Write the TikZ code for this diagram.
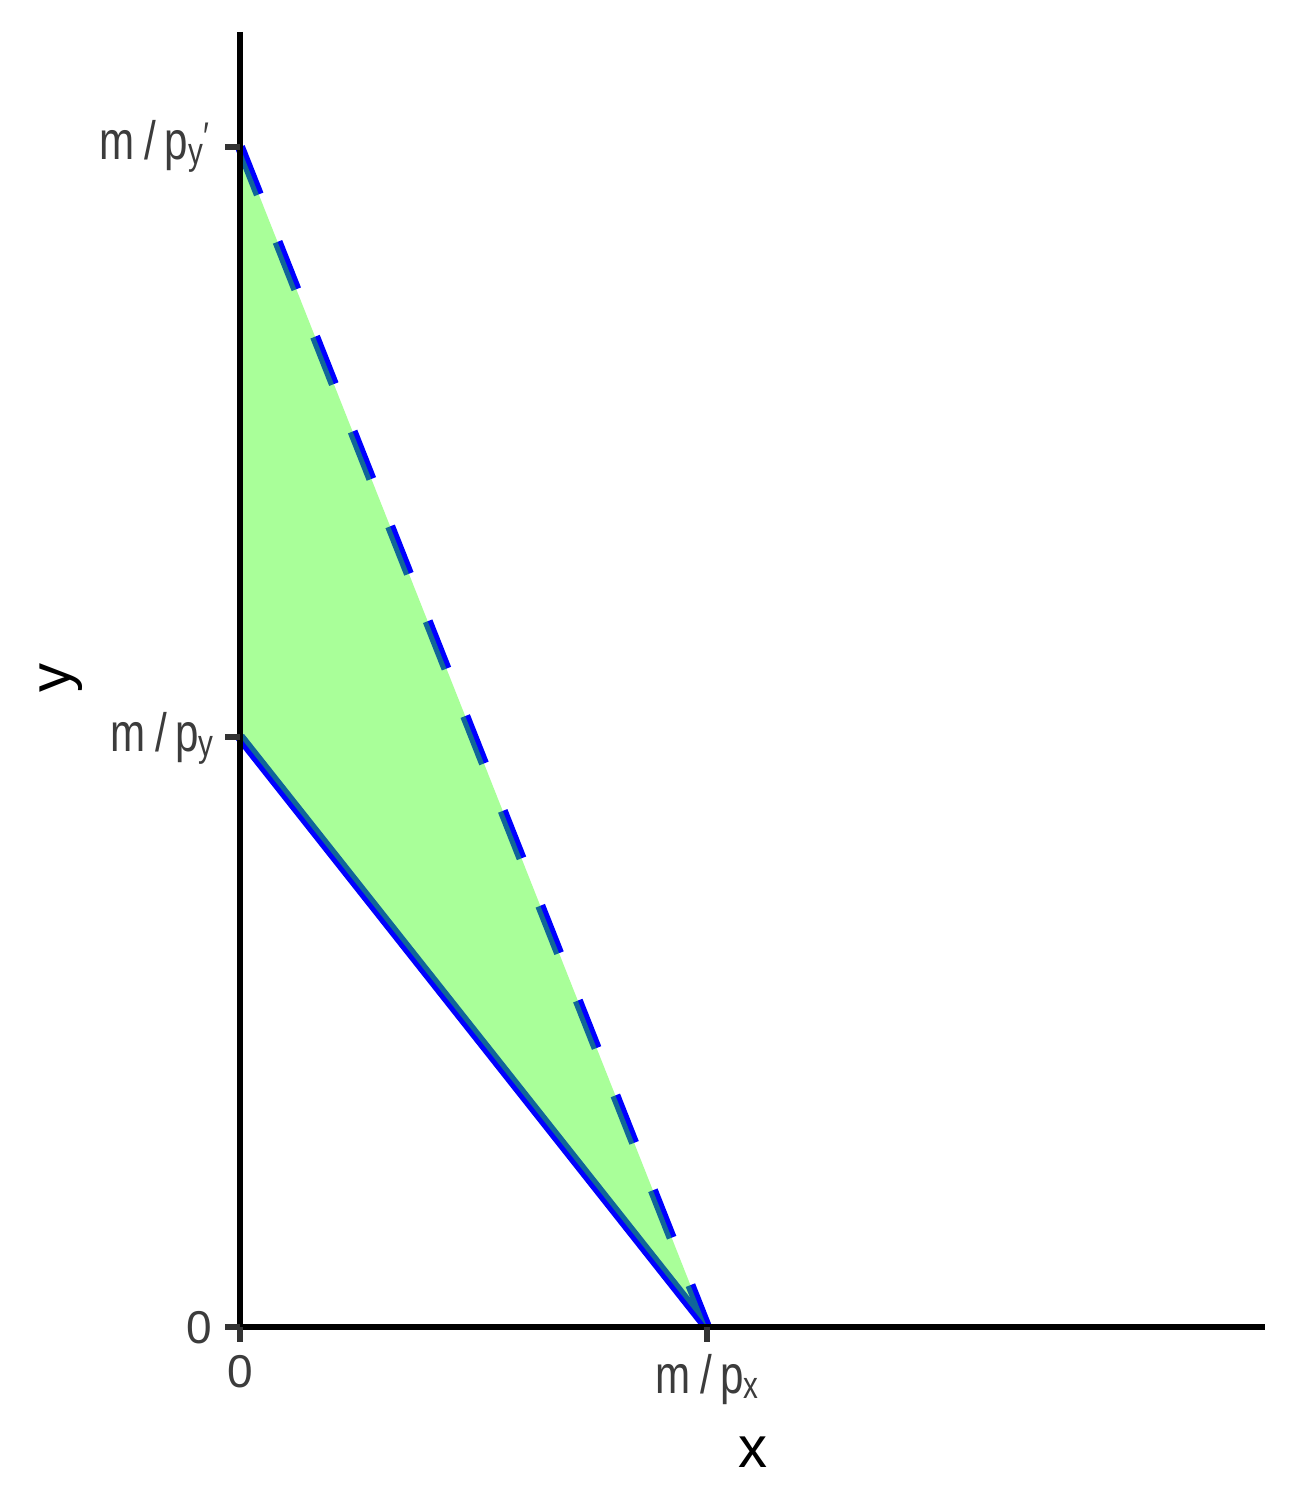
\documentclass[tikz,border=0pt]{standalone}
\usepackage{fontspec}
\setmainfont{Liberation Sans}
\newfontfamily\condfont[FakeStretch=0.78]{Liberation Sans}
\definecolor{fillg}{RGB}{40,255,0}
\definecolor{ticktxt}{RGB}{60,60,60}
\definecolor{tickcol}{RGB}{51,51,51}
\newcommand{\mplab}[2]{{\condfont\fontsize{54}{54}\selectfont m\hspace{10pt}/\hspace{8pt}p\raisebox{-5pt}{\fontsize{38}{38}\selectfont #1}#2}}
\begin{document}
\begin{tikzpicture}[x=1pt,y=-1pt,
  budget/.style={blue,line width=10pt},
  axisline/.style={black,line width=6pt},
  tickmark/.style={tickcol,line width=6pt},
  ticklab/.style={text=ticktxt,inner sep=0pt},
  axtitle/.style={text=black,inner sep=0pt,font=\fontsize{58}{58}\selectfont}]
\useasboundingbox (0,0) rectangle (1296,1512);
% coordinates
\coordinate (O) at (240,1327);
\coordinate (Py) at (240,737);
\coordinate (Pyp) at (240,147);
\coordinate (Px) at (707,1327);
\coordinate (Ytop) at (240,32);
\coordinate (Xend) at (1265,1327);
% budget lines
\draw[budget] (Py) -- (Px);
\draw[budget,dash pattern=on 51pt off 51pt] (Pyp) -- (Px);
% shaded area
\fill[fillg,fill opacity=0.4] (Pyp) -- (Py) -- (Px) -- cycle;
% axes
\draw[axisline] (Ytop) -- (240,1330);
\draw[axisline] (237,1327) -- (Xend);
% ticks
\draw[tickmark] (Pyp) -- ++(-15,0);
\draw[tickmark] (Py) -- ++(-15,0);
\draw[tickmark] (O) -- ++(-15,0);
\draw[tickmark] (O) -- ++(0,15);
\draw[tickmark] (Px) -- ++(0,15);
% tick labels
\node[ticklab,anchor=base east] (lpyp) at (210,159) {\mplab{y}{\hspace{1pt}\raisebox{9pt}{\fontsize{40}{40}\selectfont ′}}};
\node[ticklab,anchor=base east] (lpy) at (214,751) {\mplab{y}{}};
\node[ticklab,anchor=base east,font=\fontsize{46}{46}\selectfont] (l0y) at (212,1343) {0};
\node[ticklab,anchor=base,font=\fontsize{46}{46}\selectfont] (l0x) at (240,1387) {0};
\node[ticklab,anchor=base] (lpx) at (707,1393) {\mplab{x}{}};
% axis titles
\node[axtitle,anchor=base] (tx) at (753,1467) {x};
\node[axtitle,anchor=base,rotate=90] (ty) at (70,678) {y};
\end{tikzpicture}
\end{document}
